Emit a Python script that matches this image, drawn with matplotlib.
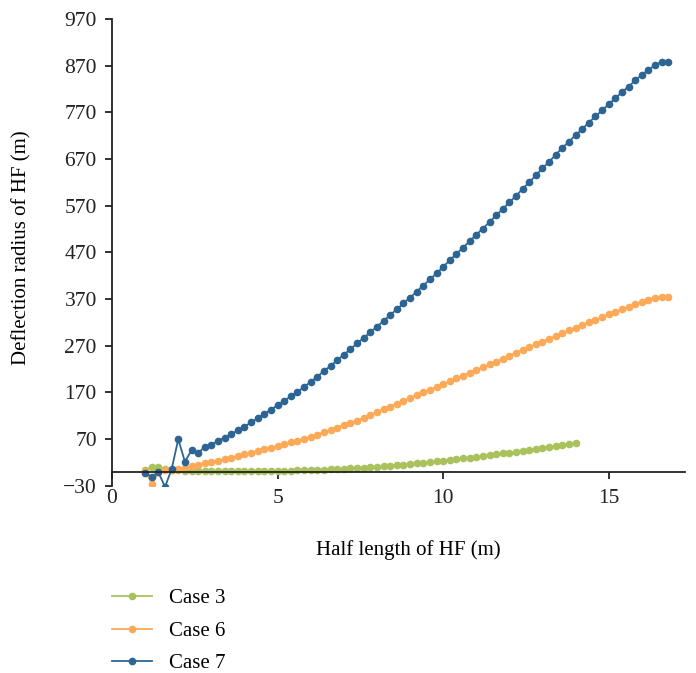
import matplotlib
matplotlib.use("Agg")
import matplotlib.pyplot as plt
import numpy as np

plt.rcParams['font.family'] = ['Liberation Serif', 'DejaVu Serif']

# half length of the hydraulic fracture (m), sampled every 0.2 m
half_length = [
    1.0, 1.2, 1.4, 1.6, 1.8, 2.0, 2.2, 2.4, 2.6, 2.8,
    3.0, 3.2, 3.4, 3.6, 3.8, 4.0, 4.2, 4.4, 4.6, 4.8,
    5.0, 5.2, 5.4, 5.6, 5.8, 6.0, 6.2, 6.4, 6.6, 6.8,
    7.0, 7.2, 7.4, 7.6, 7.8, 8.0, 8.2, 8.4, 8.6, 8.8,
    9.0, 9.2, 9.4, 9.6, 9.8, 10.0, 10.2, 10.4, 10.6, 10.8,
    11.0, 11.2, 11.4, 11.6, 11.8, 12.0, 12.2, 12.4, 12.6, 12.8,
    13.0, 13.2, 13.4, 13.6, 13.8, 14.0, 14.2, 14.4, 14.6, 14.8,
    15.0, 15.2, 15.4, 15.6, 15.8, 16.0, 16.2, 16.4, 16.6, 16.8,
]

# deflection radius (m)
case3 = [
    3, 11, 10, 7, 4, 3, 2, 1.5, 1.5, 1.5,
    1.5, 1.5, 1.5, 1.5, 1.5, 1.5, 1.5, 1.5, 1.5, 1.7,
    2.0, 2.3, 2.6, 3.0, 3.4, 3.8, 4.3, 4.8, 5.3, 5.9,
    6.6, 7.5, 8.4, 9.3, 10.3, 11.3, 12.3, 13.4, 14.5, 15.6,
    16.8, 18.0, 19.3, 21.0, 22.5, 24.0, 25.5, 27.0, 28.7, 30.4,
    32.1, 33.9, 35.7, 37.6, 39.5, 41.4, 43.4, 45.4, 47.4, 49.5,
    51.6, 53.7, 55.8, 58.0, 60.2, 62.4,
]
case6 = [
    2, -25, -1, 4, 5, 6, 9, 12, 15, 18,
    21, 24, 27, 30, 34, 38, 41, 45, 48, 52,
    55, 59, 63, 67, 71, 75, 80, 85, 90, 95,
    100, 105, 110, 116, 122, 128, 134, 140, 146, 152,
    158, 164, 170, 176, 182, 188, 194, 200, 206, 212,
    218, 224, 230, 236, 242, 249, 255, 261, 267, 273,
    279, 285, 291, 297, 303, 309, 314, 320, 325, 331,
    337, 342, 348, 354, 359, 364, 369, 373, 374, 374,
]
case7 = [
    -3, -10, -1, -32, 6, 70, 22, 46, 40, 54,
    57, 67, 73, 81, 89, 97, 106, 115, 124, 133,
    143, 152, 162, 171, 182, 193, 204, 216, 227, 239,
    251, 263, 275, 287, 299, 311, 323, 336, 348, 361,
    373, 386, 399, 412, 425, 439, 453, 467, 480, 494,
    508, 521, 535, 549, 563, 577, 591, 606, 620, 635,
    650, 664, 679, 694, 707, 721, 734, 748, 761, 774,
    787, 800, 813, 825, 838, 850, 861, 871, 878, 877,
]

labels = ['Case 3', 'Case 6', 'Case 7']
colors = ['#a9c25c', '#fdaa58', '#2c6594']

fig = plt.figure(figsize=(6.96, 6.73), dpi=100)
ax = fig.add_axes([0.161, 0.278, 0.823, 0.694])

series = [case3, case6, case7]
for vals, lab, col in zip(series, labels, colors):
    ax.plot(half_length[:len(vals)], vals, color=col, lw=1.3,
            marker='o', ms=4.5, label=lab)

ax.set_xlim(0, 17.3)
ax.set_ylim(-30, 970)
ax.set_yticks(np.arange(-30, 971, 100))
ax.set_xticks([0, 5, 10, 15])

ax.spines['top'].set_visible(False)
ax.spines['right'].set_visible(False)
ax.spines['bottom'].set_position(('data', 0))
for s in ['left', 'bottom']:
    ax.spines[s].set_linewidth(1.3)
    ax.spines[s].set_color('#222222')

ax.tick_params(axis='y', direction='out', length=5, width=1.3, labelsize=15.5, pad=6)
ax.tick_params(axis='x', direction='out', length=5, width=1.3, labelsize=15.5, pad=7)
ax.tick_params(colors='#222222')

ax.set_xlabel('Half length of HF (m)', fontsize=15)
ax.xaxis.set_label_coords(0.517, -0.116)
ax.set_ylabel('Deflection radius of HF (m)', fontsize=15)
ax.yaxis.set_label_coords(-0.14, 0.51)

fig.legend(loc='upper left', bbox_to_anchor=(0.161, 0.125), frameon=False,
           fontsize=15, handlelength=1.9, handletextpad=0.85, labelspacing=0.62,
           borderpad=0, borderaxespad=0)

fig.savefig('out.png', dpi=100)
